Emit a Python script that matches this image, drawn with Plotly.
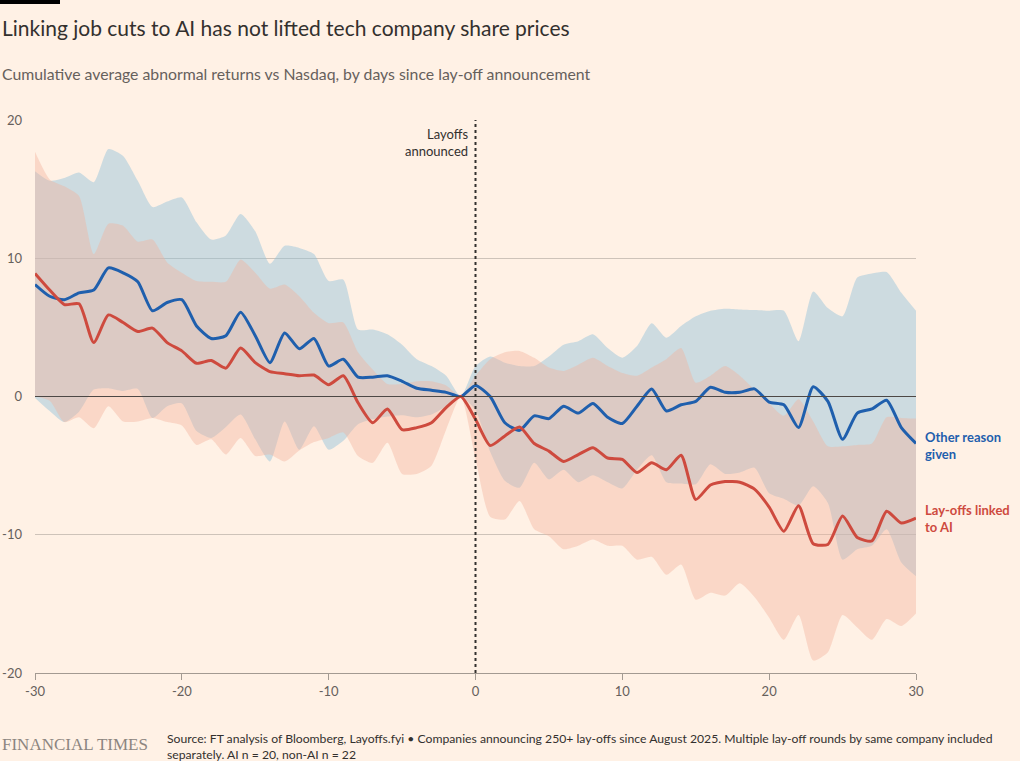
import plotly.graph_objects as go

# days relative to the lay-off announcement
days = list(range(-30, 31))

# cumulative average abnormal return, %, companies giving another reason
other_mean = [8.1, 7.25, 7.0, 7.5, 7.7, 9.3, 8.95, 8.3, 6.2, 6.8,
              7.0, 5.1, 4.2, 4.4, 6.1, 4.4, 2.45, 4.6, 3.45, 4.2,
              2.2, 2.7, 1.4, 1.4, 1.5, 1.1, 0.6, 0.45, 0.3, 0.0,
              0.8, 0.0, -1.9, -2.45, -1.4, -1.6, -0.7, -1.2, -0.5, -1.5,
              -1.95, -0.7, 0.55, -1.05, -0.6, -0.35, 0.67, 0.3, 0.3, 0.55,
              -0.4, -0.6, -2.25, 0.7, -0.35, -3.1, -1.2, -0.9, -0.27, -2.25,
              -3.4]
other_upper = [16.3, 15.6, 15.8, 16.2, 15.5, 17.9, 17.4, 15.6, 13.7, 14.1,
               14.4, 12.6, 11.35, 11.65, 13.2, 11.95, 9.6, 10.9, 10.75, 10.3,
               8.35, 8.45, 4.85, 4.85, 4.5, 3.75, 2.7, 2.2, 1.5, 0.0,
               2.2, 2.9, 2.45, 2.2, 2.2, 2.9, 3.75, 4.0, 4.5, 3.5,
               2.8, 3.65, 5.3, 4.25, 5.1, 5.8, 6.2, 6.35, 6.3, 6.25,
               6.2, 6.2, 4.0, 7.6, 6.4, 5.8, 8.6, 8.9, 9.0, 7.5,
               6.2]
other_lower = [-0.1, -1.05, -1.85, -1.1, 0.5, 0.6, 0.4, 0.55, -1.55, -0.7,
               -0.5, -2.5, -3.0, -2.2, -1.3, -3.1, -4.7, -1.8, -3.85, -2.15,
               -3.85, -3.2, -2.0, -1.65, -1.45, -1.35, -1.5, -1.3, -0.7, 0.0,
               -1.0, -4.0, -6.1, -6.6, -4.8, -6.0, -5.3, -6.2, -5.7, -6.2,
               -6.65, -5.3, -4.25, -6.2, -6.3, -6.35, -4.9, -5.6, -5.5, -5.15,
               -7.0, -7.4, -7.9, -6.5, -7.7, -11.8, -11.05, -10.8, -9.6, -12.0,
               -13.0]

# same for lay-offs linked to AI
ai_mean = [8.9, 7.7, 6.65, 6.7, 3.9, 5.9, 5.35, 4.7, 4.95, 3.9,
           3.3, 2.4, 2.6, 2.05, 3.5, 2.45, 1.8, 1.65, 1.5, 1.55,
           0.85, 1.5, -0.45, -1.9, -0.9, -2.4, -2.25, -1.9, -0.8, 0.0,
           -1.65, -3.55, -2.85, -2.2, -3.4, -3.95, -4.7, -4.2, -3.7, -4.45,
           -4.55, -5.5, -4.8, -5.3, -4.25, -7.45, -6.4, -6.15, -6.2, -6.7,
           -8.0, -9.75, -7.9, -10.65, -10.7, -8.65, -10.2, -10.45, -8.3, -9.15,
           -8.8]
ai_upper = [17.7, 15.7, 15.2, 14.5, 10.3, 12.5, 12.35, 11.2, 11.35, 9.7,
            8.95, 8.35, 8.3, 8.3, 9.9, 8.95, 7.8, 8.1, 7.25, 6.05,
            5.3, 5.35, 3.2, 1.95, 0.9, 0.9, 1.1, 1.1, 0.8, 0.0,
            1.5, 2.7, 3.2, 3.3, 2.8, 2.1, 1.85, 2.3, 2.8, 2.2,
            1.7, 1.5, 2.1, 2.7, 3.5, 1.0, 1.5, 2.2, 1.5, 0.5,
            -0.5, -1.4, -0.2, -1.8, -3.6, -3.6, -3.5, -3.4, -1.5, -1.55,
            -1.6]
ai_lower = [0.0, -0.3, -1.85, -1.5, -2.3, -0.7, -1.8, -1.8, -1.55, -1.85,
            -2.1, -3.5, -3.1, -4.2, -3.0, -4.3, -4.2, -4.7, -3.9, -3.3,
            -3.0, -2.6, -4.3, -4.8, -3.35, -5.6, -5.6, -5.0, -2.4, 0.0,
            -4.5, -8.7, -8.9, -7.55, -9.6, -10.1, -11.05, -10.8, -10.35, -10.8,
            -10.8, -11.8, -11.6, -12.9, -12.15, -14.7, -14.2, -14.4, -13.5, -14.5,
            -16.0, -17.6, -15.8, -19.1, -18.5, -15.8, -16.7, -17.6, -16.1, -16.6,
            -15.7]

y_ticks = [-20, -10, 0, 10, 20]
x_ticks = [-30, -20, -10, 0, 10, 20, 30]

source_lines = [
    "Source: FT analysis of Bloomberg, Layoffs.fyi \u2022 Companies announcing 250+ lay-offs since August 2025. Multiple lay-off rounds by same company included",
    "separately. AI n = 20, non-AI n = 22",
]

BG = "#FFF1E5"
TEXT = "#33302E"
MUTED = "#66605C"
BLUE = "#1F5FAD"
RED = "#CE4A3E"
FONT = "Lato"

fig = go.Figure()

# bands: blue first, peach drawn over it so the overlap turns grey-brown
bands = [
    (other_lower, other_upper, "rgba(144,194,218,0.45)"),
    (ai_lower, ai_upper, "rgba(242,178,156,0.4)"),
]
for lower, upper, fill in bands:
    fig.add_trace(go.Scatter(x=days, y=lower, mode="lines",
                             line=dict(width=0, shape="spline", smoothing=0.6),
                             hoverinfo="skip", showlegend=False))
    fig.add_trace(go.Scatter(x=days, y=upper, mode="lines", fill="tonexty",
                             fillcolor=fill,
                             line=dict(width=0, shape="spline", smoothing=0.6),
                             hoverinfo="skip", showlegend=False))

for ys, col in [(other_mean, BLUE), (ai_mean, RED)]:
    fig.add_trace(go.Scatter(x=days, y=ys, mode="lines",
                             line=dict(color=col, width=3, shape="spline", smoothing=0.6),
                             showlegend=False))

# zero line and announcement marker on top of the bands
fig.add_hline(y=0, line=dict(color="#4D4845", width=1), layer="above")
fig.add_vline(x=0, line=dict(color=TEXT, width=2, dash="dot"), layer="above")

# series labels at the line ends
fig.add_annotation(x=days[-1], y=other_mean[-1], text="<b>Other reason<br>given</b>",
                   xanchor="left", yanchor="middle", xshift=7, yshift=-2, showarrow=False,
                   align="left", font=dict(family=FONT, size=13, color=BLUE))
fig.add_annotation(x=days[-1], y=ai_mean[-1], text="<b>Lay-offs linked<br>to AI</b>",
                   xanchor="left", yanchor="middle", xshift=7, showarrow=False,
                   align="left", font=dict(family=FONT, size=13, color=RED))

fig.add_annotation(x=0, y=1.0, yref="paper", text="Layoffs<br>announced",
                   xanchor="right", yanchor="top", xshift=-6, yshift=-4,
                   showarrow=False, align="right",
                   font=dict(family=FONT, size=13, color=TEXT))

# plot area spans px 35..916 horizontally and 120..673 vertically
def px(x):
    return (x - 35) / 881

def py(y):
    return (673 - y) / 553

fig.add_annotation(x=px(0), y=py(28), xref="paper", yref="paper",
                   text="Linking job cuts to AI has not lifted tech company share prices",
                   xanchor="left", yanchor="middle", showarrow=False,
                   font=dict(family=FONT, size=21, color=TEXT))
fig.add_annotation(x=px(0), y=py(73), xref="paper", yref="paper",
                   text="Cumulative average abnormal returns vs Nasdaq, by days since lay-off announcement",
                   xanchor="left", yanchor="middle", showarrow=False,
                   font=dict(family=FONT, size=15.8, color=MUTED))
fig.add_annotation(x=px(0), y=py(744), xref="paper", yref="paper",
                   text="FINANCIAL TIMES", xanchor="left", yanchor="middle",
                   showarrow=False,
                   font=dict(family="Liberation Serif", size=17, color="#8C8580"))
for line, y_px in zip(source_lines, [738, 754]):
    fig.add_annotation(x=px(165), y=py(y_px), xref="paper", yref="paper",
                       text=line, xanchor="left", yanchor="middle", showarrow=False,
                       font=dict(family=FONT, size=12.2, color=TEXT))

fig.add_shape(type="rect", xref="paper", yref="paper",
              x0=px(0), x1=px(60), y0=py(4), y1=py(0),
              fillcolor="#000000", line=dict(width=0))

fig.update_layout(
    width=1020, height=761,
    paper_bgcolor=BG, plot_bgcolor=BG,
    margin=dict(l=35, r=104, t=120, b=88),
    showlegend=False,
    font=dict(family=FONT, color=MUTED, size=13),
    xaxis=dict(range=[-30, 30], tickvals=x_ticks, ticktext=[str(v) for v in x_ticks],
               showgrid=False, zeroline=False,
               showline=True, linecolor="#A39A92", linewidth=1, automargin=False,
               ticks="outside", ticklen=6, tickcolor="#A39A92",
               tickfont=dict(family=FONT, size=13, color=MUTED)),
    yaxis=dict(range=[-20, 20], tickvals=y_ticks, ticktext=[str(v) for v in y_ticks],
               showgrid=True,
               gridcolor="#CEC3B9", gridwidth=1, zeroline=False, automargin=False,
               showline=False, ticks="", ticklabelstandoff=12,
               tickfont=dict(family=FONT, size=13, color=MUTED)),
)

fig.write_html("out.html", config={"displayModeBar": False},
               post_script="document.body.style.margin='0';")
